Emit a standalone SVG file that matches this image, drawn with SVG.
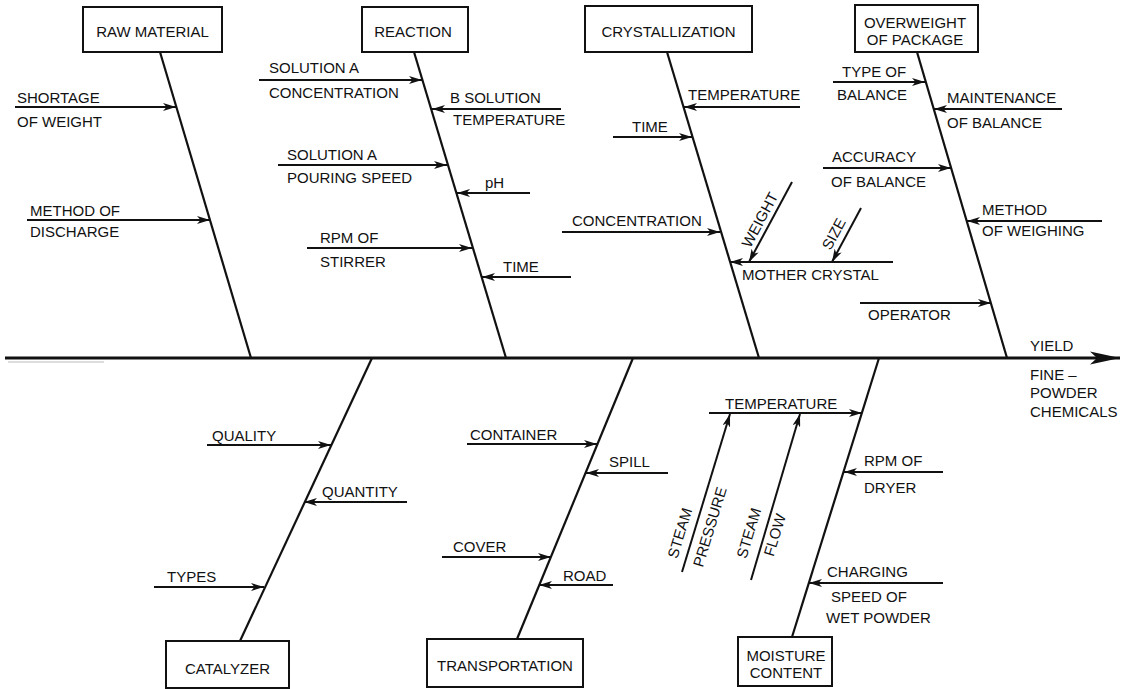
<svg xmlns="http://www.w3.org/2000/svg" width="1135" height="689" viewBox="0 0 1135 689">
<style>
text{font-family:"Liberation Sans",Arial,sans-serif;font-size:15px;fill:#111}
.box{fill:#fff;stroke:#111;stroke-width:2}
.bone{stroke:#111;stroke-width:2.2;fill:none}
.rib{stroke:#111;stroke-width:2;fill:none;marker-end:url(#ah)}
.mid{text-anchor:middle}
</style>
<defs>
<marker id="ah" viewBox="0 0 13 8" refX="13" refY="4" markerWidth="13" markerHeight="8" markerUnits="userSpaceOnUse" orient="auto">
<path d="M0,0 L13,4 L0,8 L3.5,4 Z" fill="#111"/>
</marker>
<marker id="big" viewBox="0 0 30 14" refX="30" refY="7" markerWidth="30" markerHeight="14" markerUnits="userSpaceOnUse" orient="auto">
<path d="M0,0.5 L30,7 L0,13.5 L7,7 Z" fill="#111"/>
</marker>
</defs>
<rect width="1135" height="689" fill="#fff"/>

<g id="connectors">
<line x1="5" y1="358" x2="1120" y2="358" stroke="#111" stroke-width="3" marker-end="url(#big)"/>
<line x1="8" y1="362" x2="104" y2="362" stroke="#bbb" stroke-width="1"/>
<line class="bone" x1="160" y1="52" x2="251" y2="358"/>
<line class="bone" x1="414" y1="52" x2="506" y2="358"/>
<line class="bone" x1="667" y1="52" x2="759" y2="358"/>
<line class="bone" x1="917" y1="52" x2="1007" y2="358"/>
<line class="bone" x1="372" y1="358" x2="240" y2="641"/>
<line class="bone" x1="633" y1="358" x2="517" y2="639"/>
<line class="bone" x1="879" y1="358" x2="792" y2="637"/>
<line class="rib" x1="15" y1="107" x2="176" y2="107"/>
<line class="rib" x1="27" y1="220" x2="210" y2="220"/>
<line class="rib" x1="259" y1="80" x2="422" y2="80"/>
<line class="rib" x1="561" y1="109" x2="432" y2="109"/>
<line class="rib" x1="278" y1="165" x2="447" y2="165"/>
<line class="rib" x1="530" y1="193" x2="457" y2="193"/>
<line class="rib" x1="307" y1="248" x2="472" y2="248"/>
<line class="rib" x1="571" y1="277" x2="482" y2="277"/>
<line class="rib" x1="800" y1="107" x2="684" y2="107"/>
<line class="rib" x1="613" y1="137" x2="692" y2="137"/>
<line class="rib" x1="562" y1="232" x2="720" y2="232"/>
<line class="rib" x1="893" y1="262" x2="730" y2="262" stroke-width="2.6"/>
<line class="rib" x1="792" y1="182" x2="749" y2="262"/>
<line class="rib" x1="861" y1="208" x2="832" y2="262"/>
<line class="rib" x1="833" y1="82" x2="925" y2="82"/>
<line class="rib" x1="1062" y1="109" x2="934" y2="109"/>
<line class="rib" x1="823" y1="168" x2="951" y2="168"/>
<line class="rib" x1="1102" y1="221" x2="967" y2="221"/>
<line class="rib" x1="860" y1="303" x2="991" y2="303"/>
<line class="rib" x1="207" y1="445" x2="331" y2="445"/>
<line class="rib" x1="407" y1="502" x2="304" y2="502"/>
<line class="rib" x1="154" y1="587" x2="264" y2="587"/>
<line class="rib" x1="467" y1="444" x2="597" y2="444"/>
<line class="rib" x1="668" y1="473" x2="586" y2="473"/>
<line class="rib" x1="442" y1="557" x2="551" y2="557"/>
<line class="rib" x1="613" y1="585" x2="539" y2="585"/>
<line class="rib" x1="709" y1="413" x2="862" y2="413"/>
<line class="rib" x1="682" y1="572" x2="730" y2="414"/>
<line class="rib" x1="751" y1="580" x2="800" y2="414"/>
<line class="rib" x1="943" y1="472" x2="844" y2="472"/>
<line class="rib" x1="943" y1="583" x2="809" y2="583"/>
</g>

<g id="raw-material"><rect class="box" x="83" y="7" width="139" height="45"/><text class="mid" x="152.5" y="37">RAW MATERIAL</text></g>
<g id="reaction"><rect class="box" x="362" y="7" width="106" height="45"/><text class="mid" x="413" y="37">REACTION</text></g>
<g id="crystallization"><rect class="box" x="585" y="6" width="167" height="46"/><text class="mid" x="668.5" y="37">CRYSTALLIZATION</text></g>
<g id="overweight"><rect class="box" x="855" y="5" width="123" height="47"/><text class="mid" x="915" y="28">OVERWEIGHT</text><text class="mid" x="915" y="45">OF PACKAGE</text></g>
<g id="catalyzer"><rect class="box" x="166" y="641" width="123" height="47"/><text class="mid" x="227.5" y="674">CATALYZER</text></g>
<g id="transportation"><rect class="box" x="427" y="639" width="156" height="48"/><text class="mid" x="505" y="671">TRANSPORTATION</text></g>
<g id="moisture-content"><rect class="box" x="738" y="637" width="94" height="49"/><text class="mid" x="786" y="661">MOISTURE</text><text class="mid" x="786" y="678">CONTENT</text></g>
<g id="yield"><text x="1030" y="351">YIELD</text><text x="1030" y="380">FINE –</text><text x="1030" y="398">POWDER</text><text x="1030" y="417">CHEMICALS</text></g>

<g id="shortage-of-weight"><text x="17" y="103">SHORTAGE</text><text x="17" y="127">OF WEIGHT</text></g>
<g id="method-of-discharge"><text x="30" y="216">METHOD OF</text><text x="30" y="237">DISCHARGE</text></g>

<g id="solution-a-concentration"><text x="269" y="73">SOLUTION A</text><text x="269" y="98">CONCENTRATION</text></g>
<g id="b-solution-temperature"><text x="450" y="103">B SOLUTION</text><text x="453" y="125">TEMPERATURE</text></g>
<g id="solution-a-pouring-speed"><text x="287" y="160">SOLUTION A</text><text x="287" y="183">POURING SPEED</text></g>
<g id="ph"><text x="485" y="188">pH</text></g>
<g id="rpm-of-stirrer"><text x="320" y="243">RPM OF</text><text x="320" y="267">STIRRER</text></g>
<g id="reaction-time"><text x="503" y="272">TIME</text></g>

<g id="cryst-temperature"><text x="688" y="100">TEMPERATURE</text></g>
<g id="cryst-time"><text x="632" y="132">TIME</text></g>
<g id="cryst-concentration"><text x="572" y="226">CONCENTRATION</text></g>
<g id="mother-crystal"><text x="742" y="280">MOTHER CRYSTAL</text></g>
<g id="weight"><text class="mid" transform="translate(760,220) rotate(-61.7)" x="0" y="5">WEIGHT</text></g>
<g id="size"><text class="mid" transform="translate(834,234) rotate(-61.7)" x="0" y="5">SIZE</text></g>

<g id="type-of-balance"><text x="842" y="77">TYPE OF</text><text x="837" y="100">BALANCE</text></g>
<g id="maintenance-of-balance"><text x="947" y="103">MAINTENANCE</text><text x="947" y="128">OF BALANCE</text></g>
<g id="accuracy-of-balance"><text x="832" y="162">ACCURACY</text><text x="831" y="187">OF BALANCE</text></g>
<g id="method-of-weighing"><text x="982" y="215">METHOD</text><text x="982" y="236">OF WEIGHING</text></g>
<g id="operator"><text x="868" y="320">OPERATOR</text></g>

<g id="quality"><text x="212" y="441">QUALITY</text></g>
<g id="quantity"><text x="322" y="497">QUANTITY</text></g>
<g id="types"><text x="167" y="582">TYPES</text></g>

<g id="container"><text x="470" y="440">CONTAINER</text></g>
<g id="spill"><text x="609" y="467">SPILL</text></g>
<g id="cover"><text x="453" y="552">COVER</text></g>
<g id="road"><text x="563" y="581">ROAD</text></g>

<g id="dryer-temperature"><text x="725" y="409">TEMPERATURE</text></g>
<g id="steam-pressure"><text class="mid" transform="translate(680,533) rotate(-73)" x="0" y="5">STEAM</text><text class="mid" transform="translate(710,527) rotate(-73)" x="0" y="5">PRESSURE</text></g>
<g id="steam-flow"><text class="mid" transform="translate(749,533) rotate(-73)" x="0" y="5">STEAM</text><text class="mid" transform="translate(775,535) rotate(-73)" x="0" y="5">FLOW</text></g>
<g id="rpm-of-dryer"><text x="864" y="466">RPM OF</text><text x="864" y="493">DRYER</text></g>
<g id="charging-speed"><text x="827" y="577">CHARGING</text><text x="831" y="602">SPEED OF</text><text x="826" y="623">WET POWDER</text></g>
</svg>
